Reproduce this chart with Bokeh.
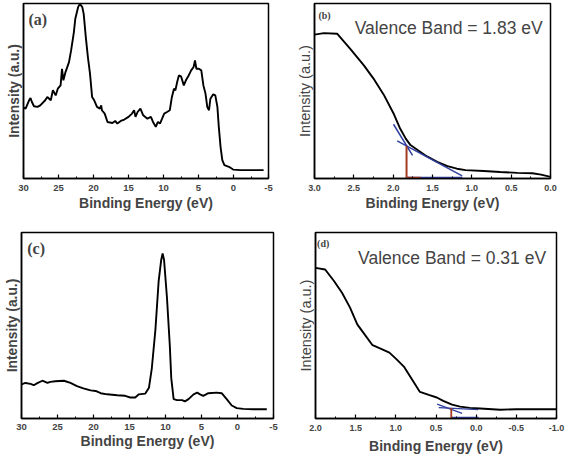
from bokeh.plotting import figure
from bokeh.layouts import column, row
from bokeh.models import Range1d, Label, FixedTicker, SingleIntervalTicker, PrintfTickFormatter
from bokeh.embed import file_html
from bokeh.resources import INLINE

# ---------------- data ----------------
# (a) full valence spectrum
a_be = [30.0, 29.7, 29.2, 29.0, 28.8, 28.5, 28.0, 27.6, 26.9, 26.6, 26.1, 25.8, 25.4, 25.1,
        24.7, 24.5, 24.3, 24.0, 23.5, 23.2, 22.8, 22.6, 22.2, 21.95, 21.6, 21.4, 21.1, 20.8,
        20.5, 20.2, 19.9, 19.5, 19.1, 18.9, 18.8, 18.4, 18.0, 17.3, 16.9, 16.6, 16.1, 15.6,
        15.0, 14.5, 14.2, 14.0, 13.7, 13.3, 12.9, 12.3, 11.8, 11.5, 11.1, 10.8, 10.5, 10.2,
        9.9, 9.5, 9.1, 8.8, 8.5, 8.3, 8.05, 7.8, 7.5, 7.1, 6.8, 6.4, 6.05, 5.7, 5.5, 5.3,
        4.95, 4.6, 4.3, 4.0, 3.75, 3.5, 3.3, 2.9, 2.6, 2.3, 2.1, 1.85, 1.6, 1.3, 0.65, 0.05,
        -1.0, -2.9, -4.3]
a_int = [40.5, 39.9, 44.7, 46.0, 43.7, 41.3, 40.9, 41.8, 44.7, 46.6, 44.7, 50.4, 47.5, 51.3,
         53.2, 62.7, 56.1, 60.8, 66.5, 73.2, 83.7, 91.3, 97.9, 99.8, 97.9, 94.1, 80.8, 69.4,
         59.9, 46.6, 44.7, 40.9, 39.9, 41.8, 39.0, 37.1, 32.3, 31.7, 32.9, 31.4, 32.9, 33.7,
         35.2, 37.1, 39.0, 35.2, 38.0, 39.9, 36.1, 34.2, 35.2, 32.3, 29.5, 32.3, 31.4, 34.2,
         37.1, 38.0, 39.0, 46.6, 51.3, 50.4, 55.1, 58.9, 58.4, 53.2, 56.1, 58.9, 61.8, 63.7,
         67.5, 62.7, 62.7, 61.8, 53.2, 48.5, 40.9, 39.0, 45.6, 48.1, 47.5, 40.9, 29.5, 18.1,
         10.5, 7.6, 6.7, 5.1, 4.8, 4.8, 4.8]

# (b) valence band edge
b_be = [3.0, 2.88, 2.71, 2.54, 2.37, 2.25, 2.12, 1.99, 1.91, 1.84, 1.78, 1.69, 1.57, 1.44,
        1.31, 1.19, 1.08, 0.85, 0.64, 0.42, 0.23, 0.12, 0.0]
b_int = [82.2, 83.1, 82.7, 73.8, 64.5, 57.1, 47.9, 36.7, 28.4, 22.8, 19.1, 16.3, 12.6, 9.5,
         7.1, 5.6, 4.8, 4.3, 3.7, 3.2, 3.0, 2.2, 0.9]
b_steep_x = [1.996, 1.754]
b_steep_y = [31.0, 13.2]
b_flat_x = [1.949, 1.123]
b_flat_y = [21.5, 1.5]
b_vb = 1.83
b_vb_top = 18.6
b_base_end = 1.12
b_base_mid = 1.65

# (c) full valence spectrum
c_be = [30.0, 29.45, 28.75, 28.3, 27.8, 27.1, 26.4, 26.0, 25.3, 24.1, 23.2, 22.3, 21.4, 20.4,
        19.7, 19.0, 18.1, 16.7, 15.6, 14.9, 14.2, 13.7, 12.8, 12.3, 11.9, 11.4, 10.95, 10.6,
        10.4, 10.2, 9.8, 9.4, 9.2, 8.87, 8.4, 7.7, 7.3, 6.8, 6.1, 5.6, 5.2, 4.75, 4.05, 2.9,
        2.2, 1.5, 0.8, 0.1, -0.8, -2.2, -4.07]
c_int = [18.3, 19.1, 18.6, 17.9, 19.0, 20.3, 19.1, 19.7, 20.0, 20.3, 19.1, 17.4, 16.2, 15.1,
         14.8, 13.6, 13.0, 12.5, 12.2, 11.3, 11.3, 13.0, 13.4, 16.5, 27.0, 47.8, 73.9, 85.2,
         88.7, 85.2, 65.2, 39.1, 21.7, 10.4, 9.9, 9.9, 9.2, 10.4, 13.0, 13.9, 13.0, 12.2, 13.6,
         13.9, 13.6, 10.4, 7.0, 5.6, 5.2, 5.0, 5.0]

# (d) valence band edge
d_be = [2.0, 1.88, 1.77, 1.67, 1.57, 1.48, 1.38, 1.29, 1.19, 1.08, 0.99, 0.9, 0.8, 0.7,
        0.59, 0.49, 0.41, 0.30, 0.2, 0.08, -0.05, -0.30, -0.5, -0.75, -1.0]
d_int = [81.0, 80.1, 73.9, 67.6, 59.6, 50.6, 44.7, 39.4, 37.6, 35.4, 31.8, 27.9, 21.1, 14.3,
         12.7, 11.3, 9.5, 7.5, 6.4, 5.7, 5.4, 4.7, 5.0, 5.0, 5.0]
d_steep_x = [0.486, 0.175]
d_steep_y = [7.7, 2.7]
d_flat_x = [0.466, -0.027]
d_flat_y = [5.9, 4.8]
d_vb = 0.31
d_vb_top = 5.7
d_base_end = -0.03

BLUE = "#2f3f9e"
BROWN = "#a23b22"
FONT = "Liberation Sans"


def make_fig(w, h, xr, interval, fmt, bl, br, bt, bb, ylabel_bold, tick_size, tick_sd, lab_sd):
    p = figure(width=w, height=h, x_range=Range1d(*xr), y_range=Range1d(0, 100),
               output_backend="svg", toolbar_location=None,
               min_border_left=bl, min_border_right=br, min_border_top=bt, min_border_bottom=bb)
    p.grid.visible = False
    p.background_fill_color = "white"
    p.border_fill_color = "white"
    p.outline_line_color = "black"
    p.outline_line_width = 1.5
    p.outline_line_alpha = 1.0

    xa = p.xaxis[0]
    xa.ticker = SingleIntervalTicker(interval=interval, num_minor_ticks=2)
    xa.formatter = PrintfTickFormatter(format=fmt)
    xa.axis_label = "Binding Energy (eV)"
    xa.axis_label_text_font = FONT
    xa.axis_label_text_font_style = "bold"
    xa.axis_label_text_font_size = "14px"
    xa.axis_label_standoff = lab_sd
    xa.major_label_text_font = FONT
    xa.major_label_text_font_style = "bold"
    xa.major_label_text_font_size = tick_size
    xa.major_label_standoff = tick_sd
    xa.major_tick_in = 4
    xa.major_tick_out = 0
    xa.minor_tick_in = 2
    xa.minor_tick_out = 0
    xa.axis_line_width = 1.5
    xa.major_tick_line_width = 1.2
    xa.minor_tick_line_width = 1.0

    ya = p.yaxis[0]
    ya.ticker = FixedTicker(ticks=[])
    ya.axis_label = "Intensity (a.u.)"
    ya.axis_label_text_font = FONT
    ya.axis_label_text_font_style = "bold" if ylabel_bold else "normal"
    ya.axis_label_text_font_size = "13.8px" if ylabel_bold else "14.5px"
    ya.axis_label_standoff = 2
    ya.major_label_standoff = 0
    ya.major_tick_in = 0
    ya.major_tick_out = 0
    ya.minor_tick_in = 0
    ya.minor_tick_out = 0
    ya.axis_line_width = 1.5
    return p


# ---------- (a) ----------
pa = make_fig(283, 229, (30, -5), 5, "%d", 23, 15, 3, 51, True, "9.5px", 6, 1)
pa.line(a_be, a_int, line_color="black", line_width=1.9)
pa.add_layout(Label(x=29.3, y=96, text="(a)", text_font="Liberation Serif", text_font_style="bold",
                    text_font_size="16px", text_baseline="top", text_align="left"))

# ---------- (b) ----------
pb = make_fig(284, 229, (3.0, 0.0), 0.5, "%.1f", 31, 17, 3, 46, False, "9px", 6, 1)
pb.line(b_be, b_int, line_color="black", line_width=1.9)
pb.line(b_steep_x, b_steep_y, line_color=BLUE, line_width=1.5)
pb.line(b_flat_x, b_flat_y, line_color=BLUE, line_width=1.5)
pb.line([b_vb, b_base_end], [0.6, 0.6], line_color=BLUE, line_width=1.5)
pb.line([b_vb, b_base_mid], [0.6, 0.6], line_color=BROWN, line_width=1.5)
pb.line([b_vb, b_vb], [0, b_vb_top], line_color=BROWN, line_width=2)
pb.add_layout(Label(x=2.95, y=96.5, text="(b)", text_font="Liberation Serif", text_font_style="bold",
                    text_font_size="10px", text_baseline="top", text_align="left"))
pb.add_layout(Label(x=0.10, y=86, text="Valence Band = 1.83 eV", text_font=FONT,
                    text_font_size="17.5px", text_baseline="alphabetic", text_align="right"))

# ---------- (c) ----------
pc = make_fig(283, 230, (30, -5), 5, "%d", 21, 10, 1, 38, True, "9.5px", 5, 0)
pc.line(c_be, c_int, line_color="black", line_width=1.9)
pc.add_layout(Label(x=29.2, y=96, text="(c)", text_font="Liberation Serif", text_font_style="bold",
                    text_font_size="16px", text_baseline="top", text_align="left"))

# ---------- (d) ----------
pd_ = make_fig(284, 230, (2.0, -1.0), 0.5, "%.1f", 32, 11, 3, 41, False, "9px", 6, 4)
pd_.line(d_be, d_int, line_color="black", line_width=1.9)
pd_.line(d_steep_x, d_steep_y, line_color=BLUE, line_width=1.3)
pd_.line(d_flat_x, d_flat_y, line_color=BLUE, line_width=1.3)
pd_.line([d_vb, d_base_end], [0.6, 0.6], line_color=BLUE, line_width=1.3)
pd_.line([d_vb, d_vb], [0, d_vb_top], line_color=BROWN, line_width=1.8)
pd_.add_layout(Label(x=1.98, y=97, text="(d)", text_font="Liberation Serif", text_font_style="bold",
                     text_font_size="10px", text_baseline="top", text_align="left"))
pd_.add_layout(Label(x=-0.87, y=86.4, text="Valence Band = 0.31 eV", text_font=FONT,
                     text_font_size="17.5px", text_baseline="alphabetic", text_align="right"))

layout = column(row(pa, pb), row(pc, pd_))
open("out.html", "w").write(file_html(layout, INLINE))
